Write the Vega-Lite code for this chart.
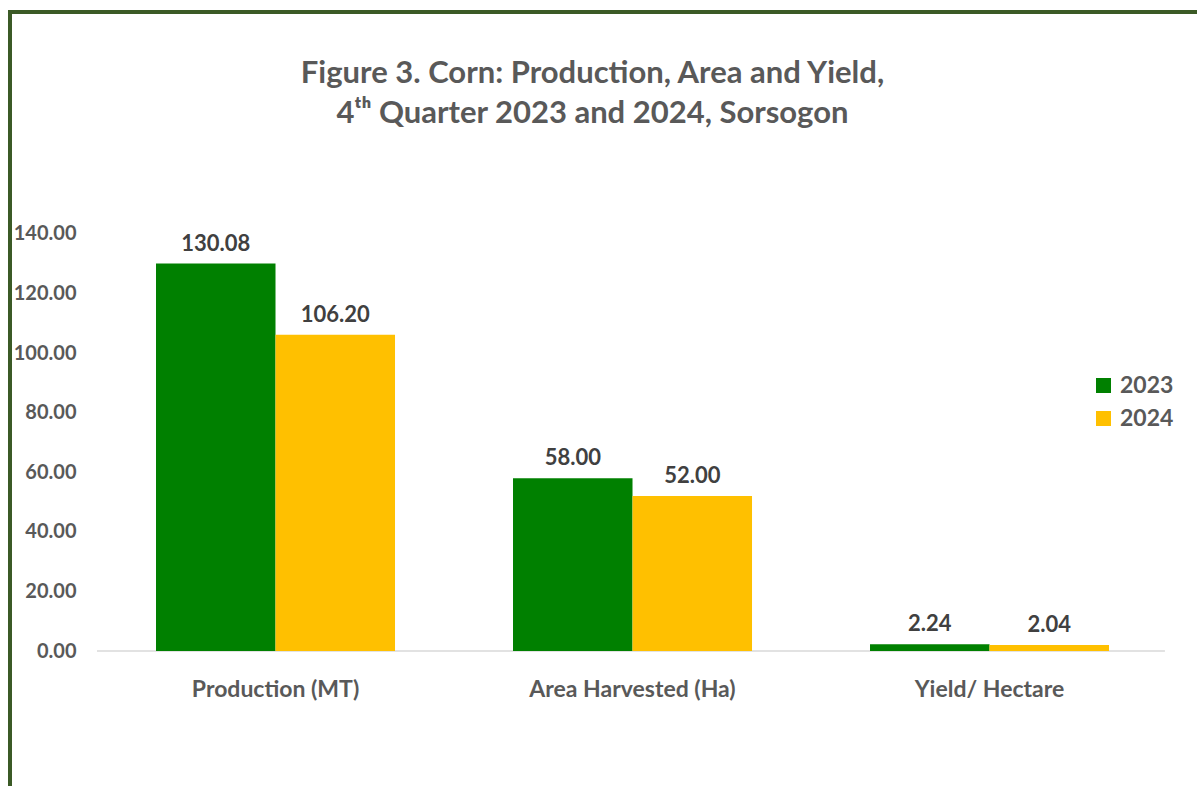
{
  "$schema": "https://vega.github.io/schema/vega-lite/v6.json",
  "width": 1187,
  "height": 774,
  "autosize": {"type": "none"},
  "padding": {"left": 10, "top": 12, "right": 0, "bottom": 0},
  "background": "white",
  "config": {
    "view": {"stroke": "#3b5a26", "strokeWidth": 4, "strokeDash": [1187, 1961, 774]},
    "font": "Lato"
  },
  "title": {
    "text": ["Figure 3. Corn: Production, Area and Yield,", "4ᵗʰ Quarter 2023 and 2024, Sorsogon"],
    "anchor": "middle",
    "frame": "group",
    "orient": "top",
    "baseline": "bottom",
    "offset": -149,
    "dx": -11,
    "font": "Lato",
    "fontSize": 31,
    "fontWeight": "bold",
    "color": "#595959",
    "lineHeight": 40
  },
  "data": {
    "values": [
      {"category": "Production (MT)", "year": "2023", "value": 130.08},
      {"category": "Production (MT)", "year": "2024", "value": 106.20},
      {"category": "Area Harvested (Ha)", "year": "2023", "value": 58.00},
      {"category": "Area Harvested (Ha)", "year": "2024", "value": 52.00},
      {"category": "Yield/ Hectare", "year": "2023", "value": 2.24},
      {"category": "Yield/ Hectare", "year": "2024", "value": 2.04}
    ]
  },
  "layer": [
    {
      "data": {"values": [{"start": "Production (MT)", "end": "Yield/ Hectare"}]},
      "mark": {"type": "rule", "color": "#d9d9d9", "strokeWidth": 1.5},
      "encoding": {
        "x": {"field": "start", "type": "nominal", "bandPosition": -0.247},
        "x2": {"field": "end", "bandPosition": 1.234},
        "y": {"datum": 0, "type": "quantitative"}
      }
    },
    {
      "mark": {"type": "bar"},
      "encoding": {
        "x": {"field": "category", "type": "nominal"},
        "xOffset": {"field": "year", "type": "nominal", "scale": {"paddingInner": 0, "paddingOuter": 0}},
        "y": {"field": "value", "type": "quantitative"},
        "y2": {"datum": 0},
        "color": {
          "field": "year",
          "type": "nominal",
          "scale": {"domain": ["2023", "2024"], "range": ["#008000", "#FFC000"]},
          "legend": {
            "title": null,
            "orient": "none",
            "legendX": 1082,
            "legendY": 362,
            "symbolType": "square",
            "symbolSize": 225,
            "symbolStrokeWidth": 0,
            "labelFont": "Lato",
            "labelFontSize": 23,
            "labelFontWeight": "bold",
            "labelColor": "#595959",
            "rowPadding": 9,
            "labelOffset": 5
          }
        }
      }
    },
    {
      "mark": {"type": "text", "baseline": "alphabetic", "dy": -13, "font": "Lato", "fontSize": 22, "fontWeight": "bold", "color": "#404040"},
      "encoding": {
        "x": {"field": "category", "type": "nominal"},
        "xOffset": {"field": "year", "type": "nominal"},
        "y": {"field": "value", "type": "quantitative"},
        "text": {"field": "value", "type": "quantitative", "format": ".2f"}
      }
    }
  ],
  "resolve": {"scale": {"x": "shared", "y": "shared"}},
  "encoding": {
    "x": {
      "scale": {
        "domain": ["Production (MT)", "Area Harvested (Ha)", "Yield/ Hectare"],
        "paddingInner": 0.3305,
        "paddingOuter": 0.3277,
        "align": 0.624
      },
      "axis": {
        "title": null,
        "orient": "bottom",
        "offset": -135,
        "domain": false,
        "ticks": false,
        "labelPadding": 27,
        "labelAngle": 0,
        "labelLimit": 400,
        "labelFont": "Lato",
        "labelFontSize": 23,
        "labelFontWeight": "bold",
        "labelColor": "#595959"
      }
    },
    "y": {
      "scale": {"domain": [-45.32, 214.53], "nice": false, "zero": false},
      "axis": {
        "title": null,
        "values": [0, 20, 40, 60, 80, 100, 120, 140],
        "format": ".2f",
        "offset": -67,
        "domain": false,
        "ticks": false,
        "grid": false,
        "labelPadding": 1,
        "labelFont": "Lato",
        "labelFontSize": 20,
        "labelFontWeight": "bold",
        "labelColor": "#595959"
      }
    }
  }
}
